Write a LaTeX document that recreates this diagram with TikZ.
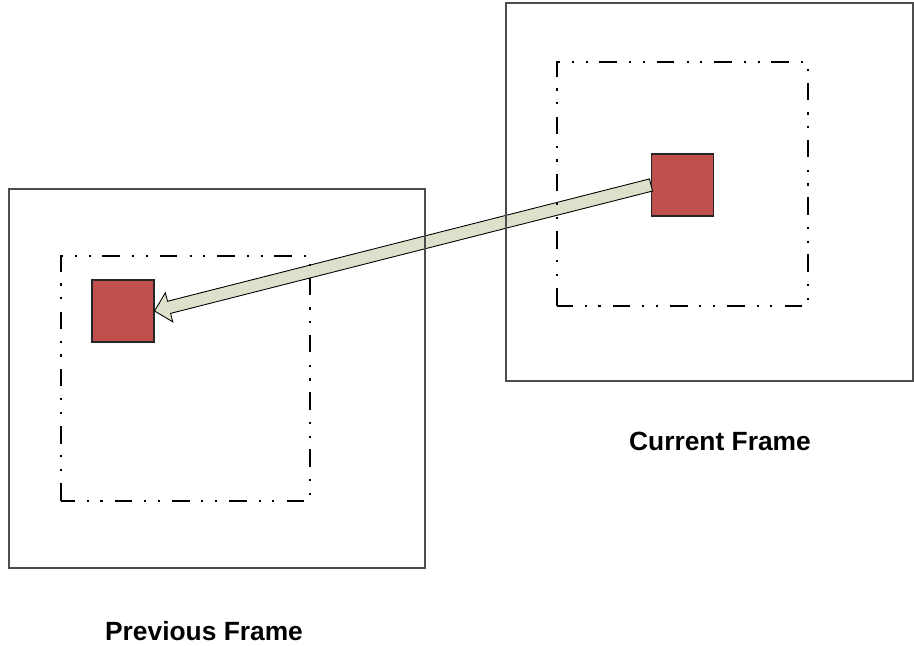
\documentclass[tikz,border=0pt]{standalone}
\usepackage{fontspec}
\setmainfont{Liberation Sans}
\usepackage{tikz}
\usetikzlibrary{calc}

\definecolor{blockred}{HTML}{C0504D}
\definecolor{mvfill}{HTML}{DDE0CA}

\tikzset{
  frame/.style={draw=black!70,line width=0.6pt},
  window/.style={line width=1.2pt,dash pattern=on 10pt off 7pt on 1.2pt off 6.6pt on 1.2pt off 6.6pt},
  block/.style={draw=black!85,fill=blockred,line width=0.6pt,minimum width=1.24cm,minimum height=1.24cm,inner sep=0pt},
  caption/.style={font=\fontsize{15}{18}\selectfont\bfseries}
}

\begin{document}
\begin{tikzpicture}[x=1cm,y=1cm]
\useasboundingbox (0,0) rectangle (18.28,12.9);
% search blocks
\node[block] (prevblock) at (2.46,6.68) {};
\node[block] (curblock) at (13.65,9.20) {};
% motion vector
\coordinate (tail) at (curblock.west);
\coordinate (tip) at (prevblock.east);
\coordinate (neck) at ($(tip)!0.30cm!(tail)$);
\draw[fill=mvfill,line width=0.5pt]
  ($(tail)!0.125cm!90:(tip)$) -- ($(neck)!0.125cm!90:(tip)$) -- ($(neck)!0.30cm!90:(tip)$)
  -- (tip) -- ($(neck)!0.30cm!-90:(tip)$) -- ($(neck)!0.125cm!-90:(tip)$)
  -- ($(tail)!0.125cm!-90:(tip)$) -- cycle;
% frames
\draw[frame] (0.18,1.54) rectangle (8.50,9.12);
\draw[frame] (10.12,5.28) rectangle (18.26,12.84);
% search windows
\draw[window] (1.22,2.88) rectangle (6.20,7.78);
\draw[window] (11.14,6.78) rectangle (16.16,11.66);
% captions
\node[caption] (curlabel) at (14.40,4.08) {Current Frame};
\node[caption] (prevlabel) at (4.08,0.28) {Previous Frame};
\end{tikzpicture}
\end{document}
